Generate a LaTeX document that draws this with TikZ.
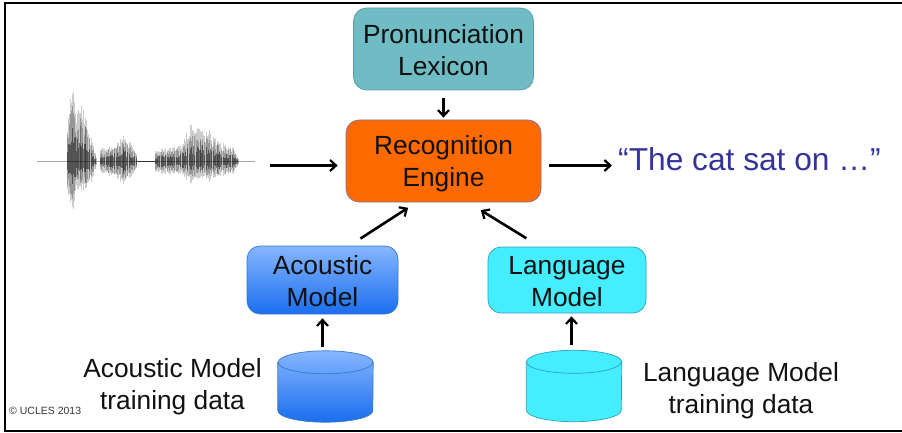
\documentclass[tikz,border=0pt]{standalone}
\usepackage{fontspec}
\setmainfont{Liberation Sans}
\usetikzlibrary{calc,arrows.meta}
\definecolor{lexfill}{HTML}{6FBCC4}
\definecolor{lexedge}{HTML}{5E9AA8}
\definecolor{engfill}{HTML}{FF6A00}
\definecolor{engedge}{HTML}{7F6F9F}
\definecolor{actop}{HTML}{86B6FF}
\definecolor{acbot}{HTML}{1A6EEE}
\definecolor{acedge}{HTML}{3C78C8}
\definecolor{lmfill}{HTML}{45EEFF}
\definecolor{lmedge}{HTML}{2F9FBE}
\definecolor{quotecol}{HTML}{333399}
\definecolor{txtcol}{HTML}{111111}
\tikzset{
  box/.style={rounded corners=13pt,draw,line width=.7pt,inner sep=0pt,align=center,text=txtcol,
    font=\fontsize{26.3}{32}\selectfont},
  caption/.style={inner sep=0pt,align=center,text=txtcol,font=\fontsize{26.3}{32}\selectfont},
  flow/.style={-{Straight Barb[length=6pt,width=11pt,line width=2.2pt]},line width=2.6pt,black},
  drum/.style={inner sep=0pt,minimum width=95pt,minimum height=71pt},
}
% #1 node name, #2 edge colour, #3 fill options
\newcommand{\drumbody}[3]{%
  \path[draw=#2,line width=.7pt,#3]
    ($(#1.north west)+(0pt,-11.5pt)$) -- ($(#1.south west)+(0pt,11.5pt)$)
    arc[start angle=180,end angle=360,x radius=47.5pt,y radius=11.5pt]
    -- ($(#1.north east)+(0pt,-11.5pt)$)
    arc[start angle=0,end angle=180,x radius=47.5pt,y radius=11.5pt] -- cycle;
  \draw[#2,line width=.7pt] ($(#1.north west)+(0pt,-11.5pt)$)
    arc[start angle=180,end angle=360,x radius=47.5pt,y radius=11.5pt];}
\begin{document}
\begin{tikzpicture}[x=1pt,y=-1pt]
\useasboundingbox (0,0) rectangle (902,433);
\fill[white] (0,0) rectangle (902,433);
\draw[black,line width=2pt] (904,3.5) -- (5,3.5) -- (5,431) -- (904,431);
% waveform
\pgfmathsetseed{11}
\draw[gray!70,line width=.9pt] (37,161.5) -- (255,161.5);
\foreach \xa/\ua/\da/\xb/\ub/\db in {
  67/130/190/70/95/205, 70/95/205/73/90/210, 73/90/210/76/115/190, 76/115/190/80/98/193,
  80/98/193/85/115/190, 85/115/190/91/137/183, 91/137/183/96/156/167,
  100/148/172/110/147/176, 110/147/176/118/143/178, 118/143/178/123/135/185,
  123/135/185/130/142/178, 130/142/178/137/155/168,
  155/150/173/170/148/174, 170/148/174/183/143/175, 183/143/175/190/126/183,
  190/126/183/200/128/178, 200/128/178/207/128/182, 207/128/182/217/140/177,
  217/140/177/226/146/175, 226/146/175/233/148/173, 233/148/173/238/158/165}{
  \pgfmathsetmacro{\nx}{\xa+1.2}
  \pgfmathsetmacro{\lastx}{\xb-.01}
  \foreach \xx in {\xa,\nx,...,\lastx}{
    \pgfmathsetmacro{\t}{(\xx-\xa)/(\xb-\xa)}
    \pgfmathsetmacro{\uu}{\ua+\t*(\ub-\ua)}
    \pgfmathsetmacro{\dd}{\da+\t*(\db-\da)}
    \pgfmathsetmacro{\fa}{.75+.3*rnd}
    \pgfmathsetmacro{\fc}{.5+.35*rnd}
    \pgfmathsetmacro{\fb}{.2+.3*rnd}
    \draw[black,opacity=.2,line width=.9pt] (\xx,{161.5+\fa*(\uu-161.5)}) -- (\xx,{161.5+\fa*(\dd-161.5)});
    \draw[black,opacity=.25,line width=.9pt] (\xx+.5,{161.5+\fc*(\uu-161.5)}) -- (\xx+.5,{161.5+\fc*(\dd-161.5)});
    \draw[black,opacity=.45,line width=1pt] (\xx,{161.5+\fb*(\uu-161.5)}) -- (\xx,{161.5+\fb*(\dd-161.5)});
  }
}
\draw[black,opacity=.7,line width=1.6pt] (137,161.5) -- (155,161.5);
\coordinate (wave) at (255,165.5);
% boxes
\node[box,fill=lexfill,draw=lexedge,minimum width=180pt,minimum height=82pt] (lex) at (443.5,49) {\rule{0pt}{21pt}Pronunciation\\Lexicon};
\node[box,fill=engfill,draw=engedge,minimum width=195pt,minimum height=82pt] (eng) at (443.5,161) {\rule{0pt}{25pt}Recognition\\Engine};
\node[box,top color=actop,bottom color=acbot,draw=acedge,minimum width=151pt,minimum height=68pt] (am) at (322.5,280) {\rule{0pt}{21pt}Acoustic\\Model};
\node[box,fill=lmfill,draw=lmedge,minimum width=158pt,minimum height=66pt] (lm) at (567,280) {\rule{0pt}{21pt}Language\\Model};
% drums
\node[drum] (ad) at (325.5,386.5) {};
\drumbody{ad}{acedge}{top color=actop,bottom color=acbot}
\node[drum] (ld) at (574,386) {};
\drumbody{ld}{lmedge}{fill=lmfill}
% texts
\node[caption] (adt) at (172.5,387) {Acoustic Model\\training data};
\node[caption] (ldt) at (741,390.5) {Language Model\\training data};
\node[inner sep=0pt,anchor=base west,text=quotecol,font=\fontsize{31.7}{36}\selectfont] (said) at (618,170) {“The cat sat on …”};
\node[inner sep=0pt,anchor=base west,text=txtcol!85,font=\fontsize{10.5}{12}\selectfont] (ucles) at (9,414) {© UCLES 2013};
% connectors
\draw[flow,shorten <=15pt,shorten >=8pt] (wave) -- (wave -| eng.west);
\draw[flow,shorten <=8pt,shorten >=2pt] (lex.south) -- (eng.north);
\coordinate (o) at (eng.east |- wave);
\draw[flow,shorten <=8pt,shorten >=6pt] (o) -- (said.west |- o);
\draw[flow,shorten <=13pt,shorten >=10pt] ($(am.north)+(27,0)$) -- ($(eng.south)+(-27,0)$);
\draw[flow,shorten <=16pt,shorten >=15pt] ($(lm.north)+(-27,0)$) -- ($(eng.south)+(24.5,0)$);
\draw[flow,shorten <=4pt,shorten >=4pt] (ad.north -| am.south) -- (am.south);
\draw[flow,shorten <=5pt,shorten >=3pt] ($(ld.north -| lm.south)+(4.5,0)$) -- ($(lm.south)+(4.5,0)$);
\end{tikzpicture}
\end{document}
